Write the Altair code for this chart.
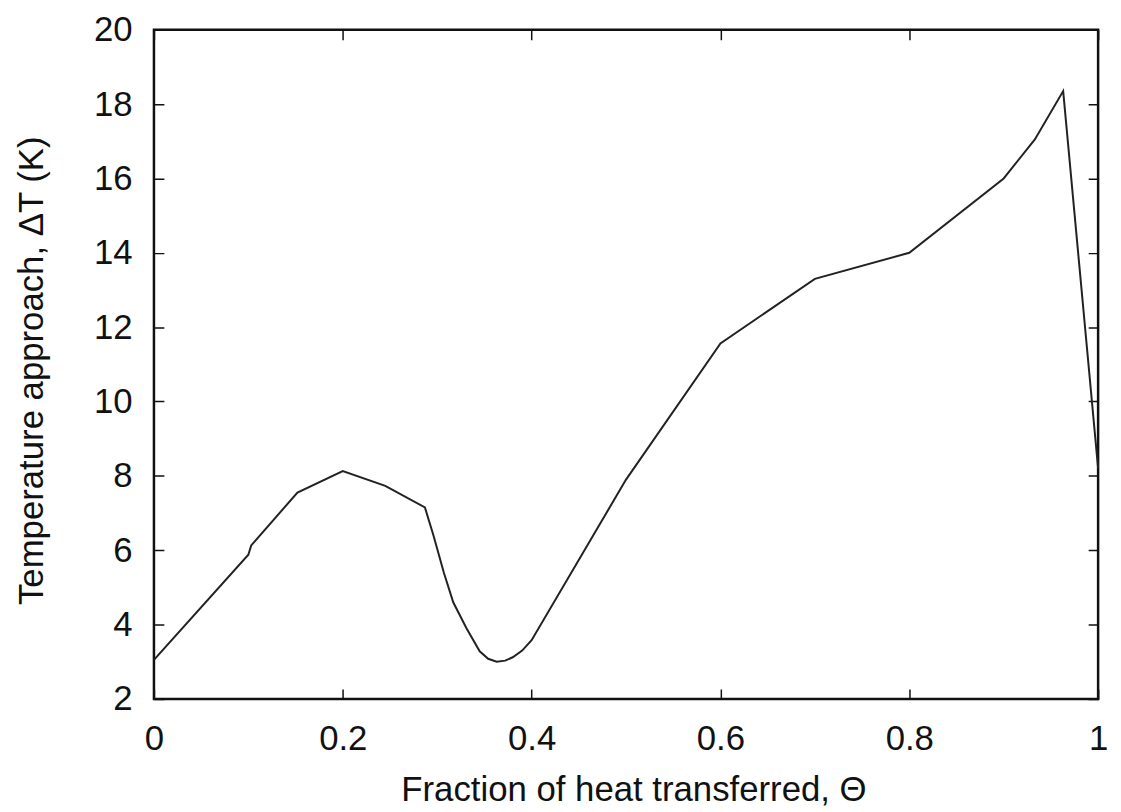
import altair as alt
import pandas as pd

theta = [0.0, 0.1, 0.103, 0.152, 0.2, 0.245, 0.287, 0.296, 0.307, 0.317, 0.331,
         0.345, 0.354, 0.363, 0.372, 0.38, 0.39, 0.4, 0.5, 0.6, 0.7, 0.8, 0.9,
         0.933, 0.963, 1.0]
dT = [3.05, 5.88, 6.13, 7.55, 8.13, 7.73, 7.15, 6.4, 5.4, 4.6, 3.9,
      3.28, 3.08, 3.0, 3.03, 3.12, 3.3, 3.58, 7.9, 11.56, 13.3, 14.0, 16.0,
      17.05, 18.35, 8.2]
x_ticks = [0, 0.2, 0.4, 0.6, 0.8, 1.0]
y_ticks = [2, 4, 6, 8, 10, 12, 14, 16, 18, 20]

df = pd.DataFrame({"theta": theta, "dT": dT})

W, H = 951, 674
FONT = "Liberation Sans"

chart = alt.Chart(df).mark_line(color="#222222", strokeWidth=2).encode(
    x=alt.X("theta:Q", scale=alt.Scale(domain=[0, 1], nice=False, zero=False),
            axis=alt.Axis(values=x_ticks, format="~g", ticks=False, domain=False,
                          grid=True, gridColor="#111111", gridWidth=1.5,
                          gridDash=[10, H - 20, 10, 3000], gridOpacity=1,
                          labelFont=FONT, labelFontSize=35, labelColor="#111111",
                          labelPadding=23, labelFlush=False,
                          title="Fraction of heat transferred, Θ",
                          titleFont=FONT, titleFontSize=35, titleFontWeight="normal",
                          titleColor="#111111", titleX=483, titleY=102,
                          titleBaseline="alphabetic", titleAlign="center")),
    y=alt.Y("dT:Q", scale=alt.Scale(domain=[2, 20], nice=False, zero=False),
            axis=alt.Axis(values=y_ticks, ticks=False, domain=False,
                          grid=True, gridColor="#111111", gridWidth=1.5,
                          gridDash=[10, W - 20, 10, 3000], gridOpacity=1,
                          labelFont=FONT, labelFontSize=35, labelColor="#111111",
                          labelPadding=22, labelFlush=False,
                          title="Temperature approach, ΔT (K)",
                          titleFont=FONT, titleFontSize=35, titleFontWeight="normal",
                          titleColor="#111111", titleX=-123, titleY=343,
                          titleBaseline="middle", titleAlign="center", titleAngle=-90)),
).properties(
    width=W, height=H,
    background="white",
    autosize=alt.AutoSizeParams(type="none"),
    padding={"left": 147, "top": 19, "right": 15, "bottom": 110},
).configure_view(
    stroke="#111111", strokeWidth=2.5
)

chart.save("out.html", embed_options={"renderer": "svg", "actions": False})
